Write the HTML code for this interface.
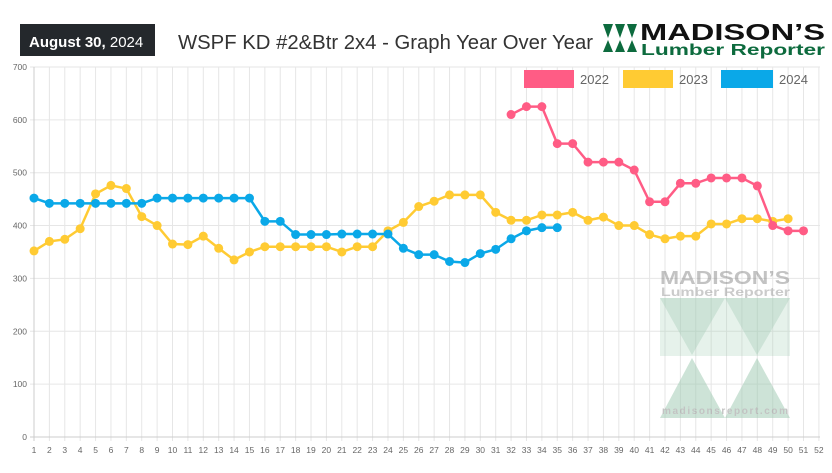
<!DOCTYPE html><html><head><style>body{margin:0;background:#fff;width:832px;height:468px;overflow:hidden;font-family:"Liberation Sans",sans-serif}</style></head><body>
<svg width="832" height="468" xmlns="http://www.w3.org/2000/svg" font-family="Liberation Sans, sans-serif">
<rect x="20" y="24" width="135" height="32" fill="#24282c"/>
<text x="29" y="47" fill="#fff" font-size="15" font-weight="bold">August 30,<tspan font-weight="normal"> 2024</tspan></text>
<text x="178" y="49" fill="#333" font-size="20" textLength="415" lengthAdjust="spacingAndGlyphs">WSPF KD #2&amp;Btr 2x4 - Graph Year Over Year</text>
<g fill="#0d6b3e"><polygon points="603,24 613,24 608,38"/><polygon points="615,24 625,24 620,38"/><polygon points="627,24 637,24 632,38"/><polygon points="603,52 608,40 613,52"/><polygon points="615,52 620,40 625,52"/><polygon points="627,52 632,40 637,52"/></g>
<text x="640" y="40" font-size="23" font-weight="bold" fill="#111" textLength="185" lengthAdjust="spacingAndGlyphs">MADISON’S</text>
<text x="641" y="55" font-size="16" font-weight="bold" fill="#0d6b3e" textLength="184" lengthAdjust="spacingAndGlyphs">Lumber Reporter</text>
<g id="grid" stroke="#e6e6e6" stroke-width="1"></g>
<g id="lbl" font-size="8.5" fill="#666"></g>
<g opacity="0.5">
<text x="660" y="284" font-size="18" font-weight="bold" fill="#888" textLength="130" lengthAdjust="spacingAndGlyphs">MADISON’S</text>
<text x="661" y="296" font-size="12" font-weight="bold" fill="#999" textLength="129" lengthAdjust="spacingAndGlyphs">Lumber Reporter</text>
<g fill="#9cc9b0"><polygon points="660,298 725,298 692,355"/><polygon points="725,298 790,298 757,355"/><polygon points="660,418 692,358 725,418"/><polygon points="725,418 757,358 790,418"/><rect x="660" y="298" width="130" height="58" fill-opacity="0.5"/></g>
<text x="662" y="414" font-size="10" fill="#888" font-weight="bold" textLength="126">madisonsreport.com</text>
</g>
<g id="series"></g>
<rect x="524" y="70" width="50" height="18" fill="#ff5c85"/><text x="580" y="84" font-size="13" fill="#666">2022</text>
<rect x="623" y="70" width="50" height="18" fill="#ffcb33"/><text x="679" y="84" font-size="13" fill="#666">2023</text>
<rect x="721" y="70" width="52" height="18" fill="#0aa8e8"/><text x="779" y="84" font-size="13" fill="#666">2024</text>
</svg>
<script>
const X=w=>34+(w-1)*15.39, Y=v=>437-v*0.5286, ns="http://www.w3.org/2000/svg";
const g=document.getElementById('grid'),l=document.getElementById('lbl'),s=document.getElementById('series');
function el(p,t,a){const e=document.createElementNS(ns,t);for(const k in a)e.setAttribute(k,a[k]);p.appendChild(e);return e}
for(let w=1;w<=52;w++){el(g,'line',{x1:X(w),x2:X(w),y1:67,y2:441});const t=el(l,'text',{x:X(w),y:453,'text-anchor':'middle'});t.textContent=w}
for(let v=0;v<=700;v+=100){el(g,'line',{x1:30,x2:820,y1:Y(v),y2:Y(v)});const t=el(l,'text',{x:27,y:Y(v)+3,'text-anchor':'end'});t.textContent=v}
el(g,'line',{x1:34,x2:34,y1:67,y2:441,stroke:'#ccc'});el(g,'line',{x1:30,x2:820,y1:437,y2:437,stroke:'#ccc'});
function ser(start,d,c){const pts=d.map((v,i)=>X(start+i)+','+Y(v)).join(' ');el(s,'polyline',{points:pts,fill:'none',stroke:c,'stroke-width':2.5});d.forEach((v,i)=>el(s,'circle',{cx:X(start+i),cy:Y(v),r:4.5,fill:c}))}
ser(1,[352,370,374,394,460,476,470,417,400,365,364,380,357,335,350,360,360,360,360,360,350,360,360,390,406,436,446,458,458,458,425,410,410,420,420,425,410,416,400,400,383,375,380,380,403,403,413,413,408,413],'#ffcb33');
ser(1,[452,442,442,442,442,442,442,442,452,452,452,452,452,452,452,408,408,383,383,383,384,384,384,384,357,345,345,332,330,347,355,375,390,396,396],'#0aa8e8');
ser(32,[610,625,625,555,555,520,520,520,505,445,445,480,480,490,490,490,475,400,390,390],'#ff5c85');
</script>
</body></html>
